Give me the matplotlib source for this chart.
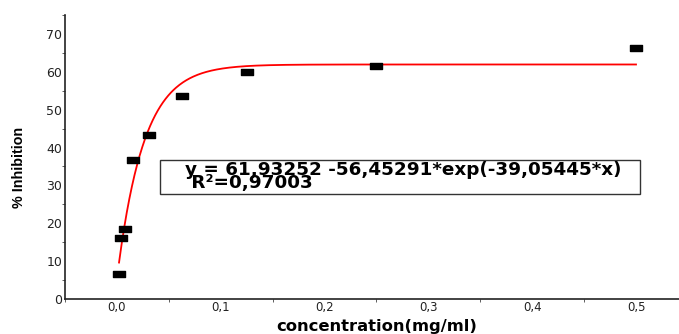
import numpy as np
import matplotlib
matplotlib.use("Agg")
import matplotlib.pyplot as plt
from matplotlib.path import Path
from matplotlib.patches import Rectangle
from matplotlib.ticker import MultipleLocator, FuncFormatter

# Measured inhibition at each concentration (mg/ml)
concentration = [0.001953, 0.003906, 0.0078125, 0.015625, 0.03125, 0.0625, 0.125, 0.25, 0.5]
inhibition = [6.5, 16.0, 18.4, 36.7, 43.3, 53.7, 60.0, 61.4, 66.4]

# Exponential rise fit: y = a - b*exp(-k*x)
fit_a, fit_b, fit_k = 61.93252, 56.45291, 39.05445
fit_r2 = 0.97003

W, H, DPI = 679, 334, 100
fig = plt.figure(figsize=(W / DPI, H / DPI), dpi=DPI)

# axes: 0.0 at x=117 px, 0.1 per ~103.8 px; y 0..75 from 299 px to 15 px
x0_px, per_unit = 117.0, 1038.0
xmin, xmax = -0.05, 0.55
left_px = x0_px + xmin * per_unit
right_px = x0_px + xmax * per_unit
bottom_px, top_px = 299.0, 15.0
ax = fig.add_axes([left_px / W, (H - bottom_px) / H,
                   (right_px - left_px) / W, (bottom_px - top_px) / H])
ax.set_xlim(xmin, xmax)
ax.set_ylim(0, 75)

for side in ("top", "right"):
    ax.spines[side].set_visible(False)
for side in ("left", "bottom"):
    ax.spines[side].set_linewidth(1.2)
    ax.spines[side].set_color("#222222")

# fitted curve
xs = np.linspace(concentration[0], concentration[-1], 600)
ax.plot(xs, fit_a - fit_b * np.exp(-fit_k * xs), color="#ff0000", lw=1.3, zorder=2)

# data points as flat black rectangles
rect_marker = Path([(-1, -0.6), (1, -0.6), (1, 0.6), (-1, 0.6), (-1, -0.6)],
                   [Path.MOVETO, Path.LINETO, Path.LINETO, Path.LINETO, Path.CLOSEPOLY])
ax.plot(concentration, inhibition, linestyle="none", marker=rect_marker,
        markersize=8.2, color="black", zorder=3)

# ticks
comma = FuncFormatter(lambda v, p: f"{v:.1f}".replace(".", ","))
ax.xaxis.set_major_locator(MultipleLocator(0.1))
ax.xaxis.set_minor_locator(MultipleLocator(0.05))
ax.xaxis.set_major_formatter(comma)
ax.yaxis.set_major_locator(MultipleLocator(10))
ax.yaxis.set_minor_locator(MultipleLocator(5))
ax.tick_params(axis="both", which="major", length=0, labelsize=9,
               colors="#222222", labelcolor="#222222")
ax.tick_params(axis="x", which="major", pad=1.5, labelsize=8.5)
ax.tick_params(axis="y", which="major", pad=2)
ax.tick_params(axis="both", which="minor", length=2, direction="out", color="#444444")

# axis titles
fig.text(377 / W, 1 - 330.5 / H, "concentration(mg/ml)", ha="center", va="baseline",
         fontsize=11.8, fontweight="bold", family=["DejaVu Sans"])
fig.text(19 / W, 1 - 167 / H, "% Inhibition", rotation=90, ha="center", va="center",
         fontsize=10.3, fontweight="bold", family=["Liberation Sans"])

# equation box
bx0, by0, bx1, by1 = 160, 160, 640, 194
fig.patches.append(Rectangle((bx0 / W, 1 - by1 / H), (bx1 - bx0) / W, (by1 - by0) / H,
                             transform=fig.transFigure, fill=True, facecolor="white",
                             edgecolor="#333333", lw=1.0, zorder=5))
eq = f"y = {fit_a:.5f} -{fit_b:.5f}*exp(-{fit_k:.5f}*x)".replace(".", ",")
r2 = f" R²={fit_r2:.5f}".replace(".", ",")
fig.text(185 / W, 1 - 176.5 / H, eq + "\n" + r2, ha="left", va="center",
         fontsize=13.2, fontweight="bold", family=["DejaVu Sans"],
         linespacing=0.7, zorder=6)

fig.savefig("out.png", dpi=DPI)
